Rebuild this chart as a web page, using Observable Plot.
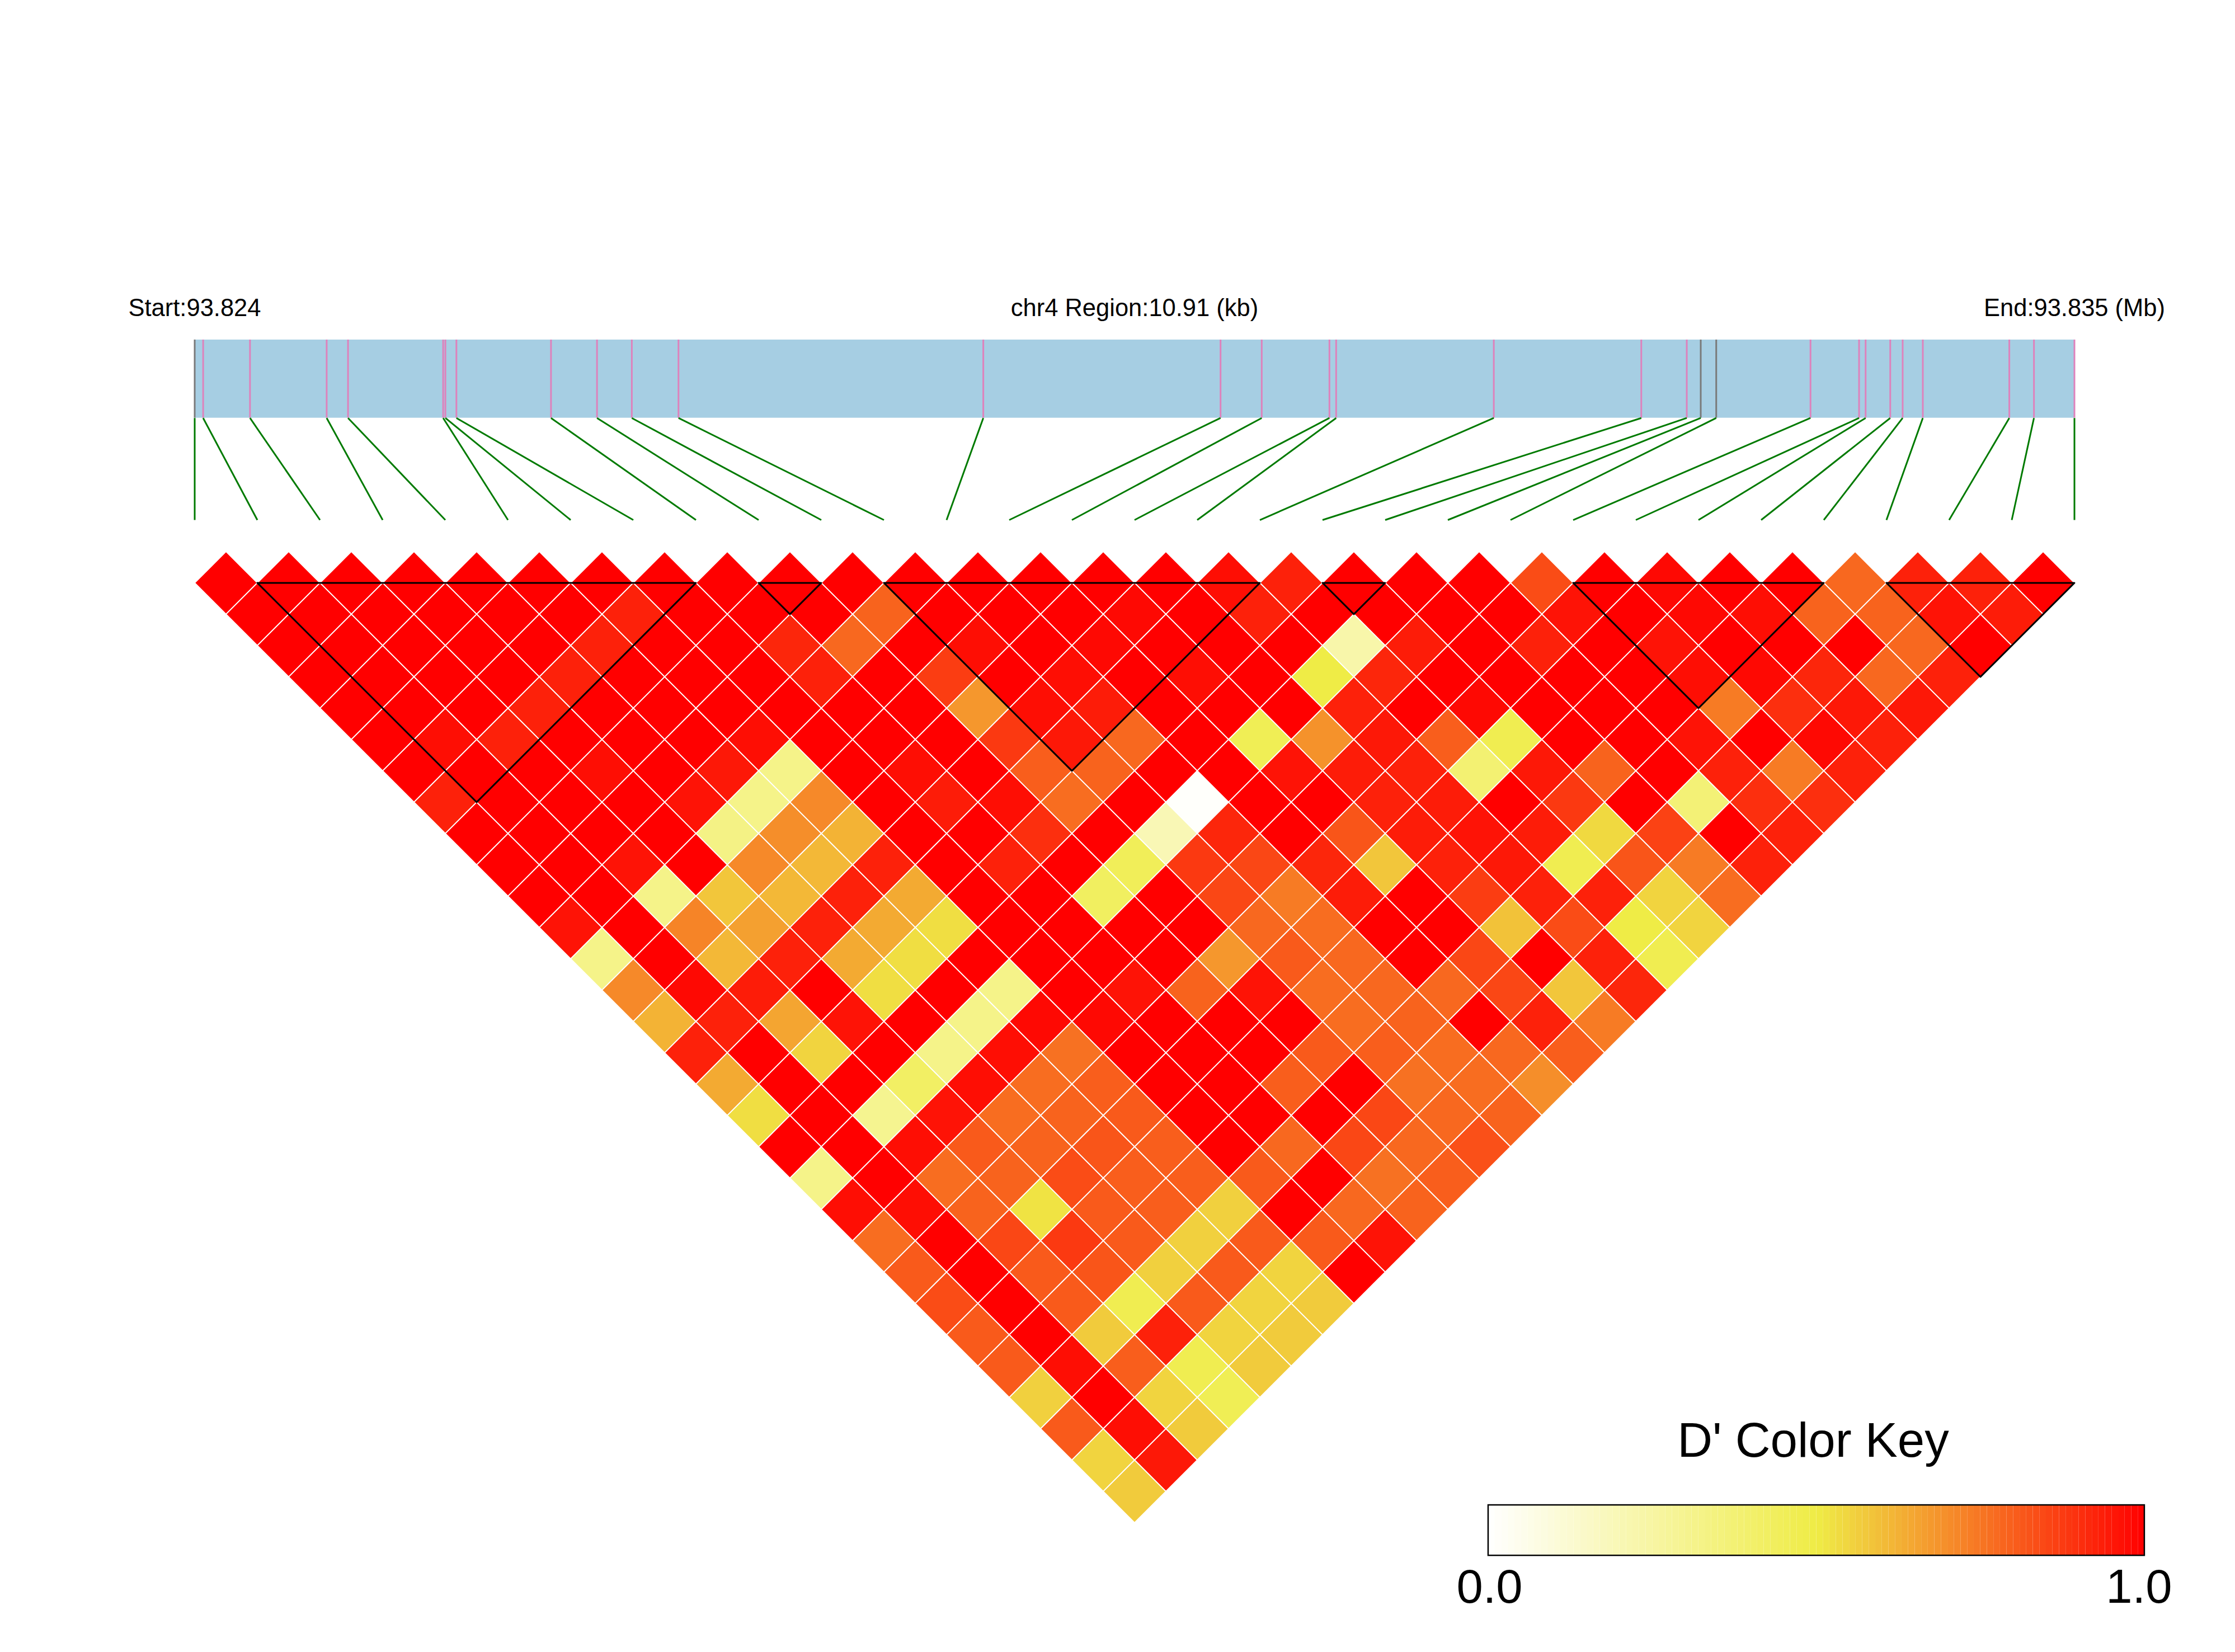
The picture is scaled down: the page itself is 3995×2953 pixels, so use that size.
<!DOCTYPE html>
<html>
<head>
<meta charset="utf-8">
<script src="https://cdn.jsdelivr.net/npm/d3@7"></script>
<script src="https://cdn.jsdelivr.net/npm/@observablehq/plot@0.6"></script>
<style>html,body{margin:0;padding:0;background:#fff}svg{display:block}</style>
</head>
<body>
<div id="chart"></div>
<script>
// SNP positions, kb from region start
const snpKb = [0,0.049,0.321,0.766,0.890,1.442,1.455,1.519,2.068,2.335,2.537,2.808,4.577,5.954,6.193,6.586,6.625,7.540,8.396,8.660,8.741,8.831,9.378,9.660,9.698,9.841,9.913,10.030,10.532,10.675,10.91];
const greySnps = [0,20,21];
const regionKb = 10.91;

// D' by SNP distance: lagN[k] is the pair (SNP k, SNP k+N)
const lag01 = [1,1,1,1,1,1,1,1,1,1,1,1,1,1,1,1,.97,.93,1,1,1,.84,1,.98,1,1,.78,.93,.93,1];
const lag02 = [1,1,1,1,1,1,.93,1,1,1,.79,1,1,1,.98,1,.93,1,1,1,1,.96,1,.98,.97,.79,.79,.96,.94];
const lag03 = [1,1,1,1,1,.93,1,1,.92,.78,1,.97,1,.98,1,1,1,.23,.94,1,.93,1,.96,1,1,1,.78,1];
const lag04 = [1,1,1,1,.93,1,1,1,.93,1,.87,1,.97,1,.97,1,.5,.92,1,1,1,1,.97,.98,.92,.78,.93];
const lag05 = [1,1,1,.93,1,1,1,1,1,1,.68,.97,.94,1,1,1,.93,1,.98,1,1,1,.74,.9,.95,.95];
const lag06 = [1,.97,.93,1,1,1,.97,1,1,1,.88,.95,.78,1,.46,.69,.95,.8,.47,1,1,.96,1,.98,.93];
const lag07 = [1,1,1,.97,1,.95,.32,1,.97,1,.8,.79,1,1,.96,.94,.93,.38,.95,.79,1,.93,.74,.93];
const lag08 = [.93,1,1,1,.96,.32,.71,1,.94,.97,.77,1,.01,1,1,.93,.94,1,.88,1,.37,.9,.9];
const lag09 = [1,1,1,1,.33,.7,.62,1,1,.9,1,.2,.92,1,.82,.94,.96,.94,.54,.86,1,.93];
const lag10 = [1,1,.96,1,.71,.61,.93,1,.93,1,.45,.88,.85,.92,.58,.93,.95,.47,.82,.74,.93];
const lag11 = [1,1,.32,.58,.61,.93,.64,1,1,.43,1,.85,.74,.94,1,.87,.93,.93,.55,.77];
const lag12 = [.96,1,.72,.66,.93,.64,.53,1,1,1,1,.78,.77,1,1,.59,.84,.5,.55];
const lag13 = [.32,1,.61,.93,.64,.53,1,1,1,1,.68,.81,.78,1,.85,1,.93,.47];
const lag14 = [.71,.98,.94,1,.53,1,.32,1,.96,.79,.96,.77,.78,.78,.85,.58,.92];
const lag15 = [.62,.93,.65,.96,1,.32,.98,.98,1,1,1,.77,.79,1,.93,.74];
const lag16 = [.93,1,.55,1,.32,.97,.76,1,1,1,.81,.8,.77,.78,.8];
const lag17 = [.64,1,1,.42,.97,.77,.8,1,1,.8,1,.76,.77,.7];
const lag18 = [.53,1,.3,.96,.77,.79,.81,1,1,1,.85,.78,.79];
const lag19 = [1,1,.97,.81,.79,.82,.8,1,.78,.85,.78,.83];
const lag20 = [.32,1,.77,.79,.84,.8,.8,.81,1,.76,.8];
const lag21 = [.97,.97,.79,.52,.81,.8,.56,1,.78,.79];
const lag22 = [.77,1,.85,.88,.81,.56,.81,.81,.96];
const lag23 = [.81,1,.81,.82,.56,.81,.55,1];
const lag24 = [.84,1,.81,.47,.81,.55,.57];
const lag25 = [.81,1,.57,.93,.55,.57];
const lag26 = [.81,.97,.8,.47,.57];
const lag27 = [.56,1,.55,.46];
const lag28 = [.81,.97,.57];
const lag29 = [.55,.95];
const lag30 = [.57];
const lags = [lag01,lag02,lag03,lag04,lag05,lag06,lag07,lag08,lag09,lag10,lag11,lag12,lag13,lag14,lag15,lag16,lag17,lag18,lag19,lag20,lag21,lag22,lag23,lag24,lag25,lag26,lag27,lag28,lag29,lag30];

// LD blocks, first and last SNP of each
const blockFirst = [1,9,11,18,22,27];
const blockLast  = [8,10,17,19,26,30];

// Header and key text
const startLabel = "Start:93.824";
const regionLabel = "chr4 Region:10.91 (kb)";
const endLabel = "End:93.835 (Mb)";
const keyTitle = "D' Color Key";
const keyMin = "0.0";
const keyMax = "1.0";

// Colour ramp
const rampStops = [0, 0.5, 1];
const rampColors = ["#ffffff", "#EFEC46", "#ff0000"];

// Layout, in x = SNP slot and y = row of the triangle
const bandTop = -6.757, bandBottom = -4.2625, linkEnd = -1.007, headerLine = -7.525;
const keyLeft = 20.647, keyRight = 31.12, keyTop = 30.44, keyBottom = 32.05;
const keyTitleLine = 28.90, keyLabelLine = 33.55, keyTitleX = 25.83, keyMinX = 20.665, keyMaxX = 31.03;
const halfDiagonal = 56;
const font = "Liberation Sans, Arial, sans-serif";

const diamond = {
  draw(ctx, size) {
    const r = Math.sqrt(size / Math.PI);
    ctx.moveTo(0, -r); ctx.lineTo(r, 0); ctx.lineTo(0, r); ctx.lineTo(-r, 0); ctx.closePath();
  }
};

const cells = lags.flatMap((values, l) =>
  values.map((d, k) => ({slot: k + (l + 1) / 2, row: l + 1, d})));
const snps = snpKb.map((kb, k) => ({slot: kb / regionKb * 30, k}));
const pink = snps.filter(s => !greySnps.includes(s.k));
const grey = snps.filter(s => greySnps.includes(s.k));
const blockOutline = blockFirst.flatMap((a, b) => {
  const z = blockLast[b];
  return [[a, 1], [z, 1], [(a + z) / 2, 1 + z - a], [a, 1]].map(([slot, row]) => ({slot, row, b}));
});
const keyLevels = d3.range(100).map(i => ({x1: i, x2: i + 1, d: (i + 0.5) / 100}));
const keyX = v => keyLeft + (keyRight - keyLeft) * v / 100;

const chart = Plot.plot({
  width: 3995, height: 2953,
  marginTop: 0, marginRight: 0, marginBottom: 0, marginLeft: 0,
  style: {background: "#fff"},
  x: {axis: null, domain: [0, 30], range: [347.5, 3707.5]},
  y: {axis: null, domain: [1, 30], range: [1041.4, 2665.4]},
  color: {type: "linear", domain: rampStops, range: rampColors, legend: false},
  marks: [
    Plot.rect([0], {x1: 0, x2: 30, y1: bandTop, y2: bandBottom, fill: "#A6CEE3"}),
    Plot.ruleX(pink, {x: "slot", y1: bandTop, y2: bandBottom, stroke: "#DE82BC", strokeWidth: 3}),
    Plot.ruleX(grey, {x: "slot", y1: bandTop, y2: bandBottom, stroke: "#7A7A7A", strokeWidth: 3}),
    Plot.link(snps, {x1: "slot", x2: "k", y1: bandBottom, y2: linkEnd, stroke: "#007A00", strokeWidth: 3}),
    Plot.dot(cells, {x: "slot", y: "row", r: halfDiagonal, symbol: diamond, fill: "d", stroke: "#fff", strokeWidth: 2}),
    Plot.line(blockOutline, {x: "slot", y: "row", z: "b", stroke: "#000", strokeWidth: 3}),
    Plot.text([startLabel], {x: 0, y: headerLine, text: d => d, lineAnchor: "bottom", fontFamily: font, fontSize: 43.5, fill: "#000"}),
    Plot.text([regionLabel], {x: 15, y: headerLine, text: d => d, lineAnchor: "bottom", fontFamily: font, fontSize: 43.5, fill: "#000"}),
    Plot.text([endLabel], {x: 30, y: headerLine, text: d => d, lineAnchor: "bottom", fontFamily: font, fontSize: 43.5, fill: "#000"}),
    Plot.rect(keyLevels, {x1: d => keyX(d.x1), x2: d => keyX(d.x2), y1: keyTop, y2: keyBottom, fill: "d"}),
    Plot.rect([0], {x1: keyLeft, x2: keyRight, y1: keyTop, y2: keyBottom, fill: "none", stroke: "#000", strokeWidth: 2.5}),
    Plot.text([keyTitle], {x: keyTitleX, y: keyTitleLine, text: d => d, lineAnchor: "bottom", fontFamily: font, fontSize: 87, fill: "#000"}),
    Plot.text([keyMin], {x: keyMinX, y: keyLabelLine, text: d => d, lineAnchor: "bottom", fontFamily: font, fontSize: 85, fill: "#000"}),
    Plot.text([keyMax], {x: keyMaxX, y: keyLabelLine, text: d => d, lineAnchor: "bottom", fontFamily: font, fontSize: 85, fill: "#000"})
  ]
});
document.getElementById("chart").appendChild(chart);
</script>
</body>
</html>
